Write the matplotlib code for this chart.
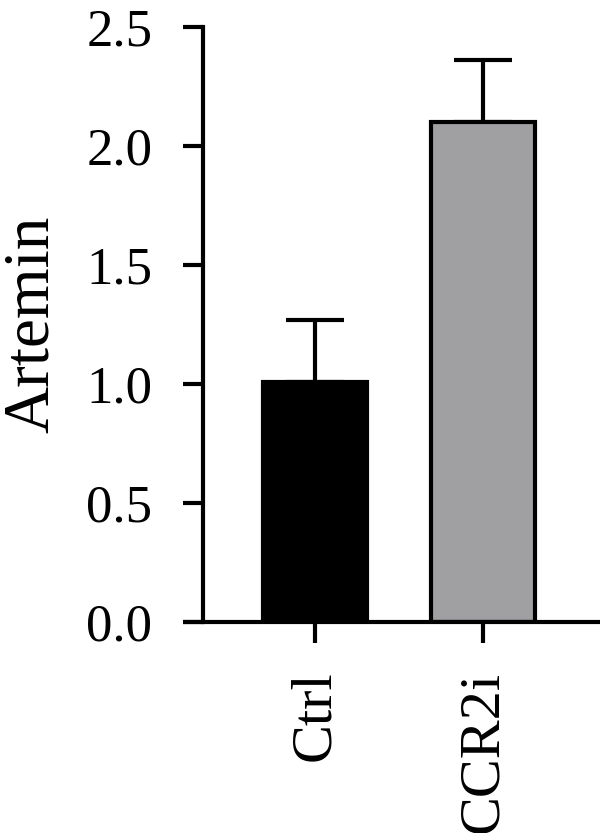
import matplotlib
matplotlib.use("Agg")
import matplotlib.pyplot as plt

# data
GROUPS = ["Ctrl", "CCR2i"]
MEANS = [1.01, 2.10]
ERR_UP = [0.26, 0.26]
COLORS = ["#000000", "#a0a0a2"]

YTICKS = [0.0, 0.5, 1.0, 1.5, 2.0, 2.5]
YLABEL = "Artemin"

plt.rcParams["font.family"] = ["Liberation Serif", "DejaVu Serif"]
LW = 3.0

fig = plt.figure(figsize=(6, 8.33), dpi=100)
ax = fig.add_axes([203 / 600, 1 - 622 / 833, 397 / 600, 595 / 833])

x = list(range(len(GROUPS)))
ax.bar(x, MEANS, width=0.62, color=COLORS, edgecolor="black", linewidth=LW, zorder=2)
ax.errorbar(x, MEANS, yerr=[[0] * len(ERR_UP), ERR_UP], fmt="none", ecolor="black",
            elinewidth=LW, capsize=21, capthick=LW, zorder=1)

ax.set_xlim(-0.667, 1.696)
ax.set_ylim(0, 2.5)
ax.set_yticks(YTICKS)
ax.set_yticklabels([f"{v:.1f}" for v in YTICKS], fontsize=38)
ax.set_xticks(x)
ax.set_xticklabels(GROUPS, rotation=90, fontsize=42)
ax.set_ylabel(YLABEL, fontsize=47, labelpad=18)

ax.spines[["top", "right", "bottom"]].set_visible(False)
ax.spines["left"].set_linewidth(LW)
ax.tick_params(axis="y", length=14.4, width=LW, pad=22)
ax.tick_params(axis="x", length=15, width=LW, pad=20)

# x axis line runs out to the left under the y ticks
ax.plot([-20 / 397, 1.0], [0, 0], transform=ax.transAxes, color="black",
        linewidth=LW, clip_on=False, solid_capstyle="butt", zorder=3)

fig.savefig("out.png", dpi=100)
